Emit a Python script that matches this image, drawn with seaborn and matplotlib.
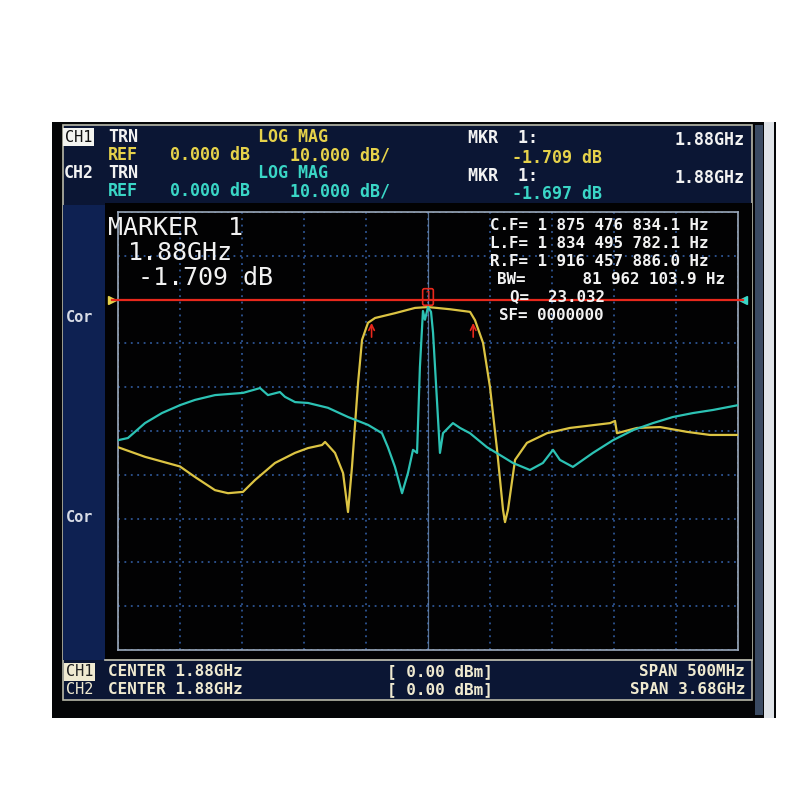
import numpy as np
import pandas as pd
import matplotlib
matplotlib.use("Agg")
import matplotlib.pyplot as plt
from matplotlib.patches import Rectangle
import seaborn as sns

CENTER_MHZ = 1880.0
SPAN1_MHZ = 500.0      # CH1 span
SPAN2_MHZ = 3680.0     # CH2 span
REF_DB = 0.0
SCALE_DB = 10.0        # dB per division
REF_POS_DIV = 8        # reference line position (division from bottom)

ch1_freq_mhz = [1630, 1651.8, 1680, 1692.1, 1708.2, 1718.7, 1730.8, 1740.5, 1756.6,
                1772.7, 1783.2, 1794.5, 1797, 1805, 1811.5, 1815.5, 1818.7, 1823.6,
                1826.8, 1831.6, 1837.3, 1853.4, 1869.5, 1880, 1897.7, 1913.9, 1917.9,
                1924.4, 1930, 1935.7, 1940.5, 1942.1, 1944.5, 1950.2, 1959.8, 1976,
                1994.5, 2026.8, 2030.8, 2032.4, 2048.6, 2067.1, 2088.9, 2107.4, 2130]
ch1_db = [-33.7, -35.9, -38.1, -40.5, -43.5, -44.2, -43.9, -41.2, -37.3,
          -35.0, -33.9, -33.2, -32.5, -35.0, -39.6, -48.5, -38.2, -19.0,
          -9.2, -5.3, -4.2, -3.1, -1.9, -1.7, -2.2, -2.8, -4.7,
          -9.9, -20.0, -34.3, -48.0, -50.8, -48.0, -36.6, -32.7, -30.5,
          -29.3, -28.2, -27.7, -30.5, -29.3, -29.1, -30.2, -30.9, -30.9]

ch2_freq_mhz = [40, 99, 200, 301, 408, 497, 616, 782, 883, 930, 1001, 1031, 1091,
                1168, 1286, 1405, 1524, 1607, 1642, 1684, 1726, 1761, 1791, 1815,
                1832, 1850, 1862, 1880, 1898, 1910, 1933, 1951, 1969, 2028, 2070,
                2129, 2230, 2325, 2384, 2485, 2562, 2622, 2663, 2740, 2859, 2978,
                3097, 3215, 3334, 3453, 3571, 3720]
ch2_db = [-32.1, -31.6, -28.2, -25.9, -24.1, -22.9, -21.8, -21.3, -20.2, -21.8, -21.1,
          -22.2, -23.4, -23.6, -24.7, -26.8, -28.6, -30.5, -33.7, -38.2, -44.2, -39.6,
          -34.3, -35.0, -15.4, -2.6, -4.6, -1.7, -2.8, -7.6, -22.9, -35.0, -30.5,
          -28.2, -29.3, -30.5, -33.7, -35.9, -37.3, -38.9, -37.3, -34.3, -36.6, -38.2,
          -35.0, -32.1, -29.8, -28.2, -26.8, -25.9, -25.2, -24.1]

marker_freq_mhz = 1880.0
lf_mhz = 1834.495782
rf_mhz = 1916.457886
bw_level_db = -4.7

# ---------------- style ----------------
YEL = "#e6d24a"
YEL_TR = "#dcc443"
CYA = "#3ad6c6"
CYA_TR = "#2cc2b4"
WHT = "#f2f2f2"
CREAM = "#f0ead0"
RED = "#e8281c"
GRID = "#3563ad"
MONO = "DejaVu Sans Mono"

fig = plt.figure(figsize=(8, 8), dpi=100, facecolor="white")

# background "screen" in pixel coordinates
bg = fig.add_axes([0, 0, 1, 1], zorder=0)
bg.set_xlim(0, 800)
bg.set_ylim(800, 0)
bg.axis("off")

def rect(x0, y0, x1, y1, fc, ec="none", lw=0, z=0):
    bg.add_patch(Rectangle((x0, y0), x1 - x0, y1 - y0, fc=fc, ec=ec, lw=lw, zorder=z))

rect(52, 122, 776, 718, "#040507")                 # outer black
rect(63, 125, 752, 700, "#0b1634", ec="#b8b8a8", lw=1.2, z=1)   # navy frame
rect(63, 205, 105, 660, "#0e2152", z=2)            # left margin
rect(105, 203, 752, 660, "#020203", z=2)           # plot black area
bg.plot([105, 752], [660, 660], color="#c8c8b8", lw=1.2, zorder=3)
rect(755, 125, 763, 715, "#3a4a62", z=1)
rect(764, 122, 774, 718, "#dfe3e8", z=1)
# reference triangles
bg.plot([112], [300], marker=">", color=YEL, ms=6, zorder=4)
bg.plot([743], [300], marker="<", color=CYA, ms=6, zorder=4)

def T(x, y, s, color=WHT, size=12, weight="bold", ha="left", family=MONO, **kw):
    fig.text(x / 800, 1 - y / 800, s, color=color, fontsize=size, fontweight=weight,
             ha=ha, va="center", family=family, **kw)

# header
T(65, 137, "CH1", color="#101010", size=11, weight="normal",
  bbox=dict(boxstyle="square,pad=0.12", fc="#f4f4f0", ec="none"))
T(108, 137, "TRN")
T(258, 137, "LOG MAG", color=YEL)
T(468, 138, "MKR  1:")
T(745, 140, "1.88GHz", ha="right")
T(108, 155, "REF", color=YEL)
T(170, 155, "0.000 dB", color=YEL)
T(290, 155, "10.000 dB/", color=YEL)
T(512, 158, "-1.709 dB", color=YEL)
T(64, 173, "CH2")
T(108, 173, "TRN")
T(258, 173, "LOG MAG", color=CYA)
T(468, 176, "MKR  1:")
T(745, 178, "1.88GHz", ha="right")
T(108, 191, "REF", color=CYA)
T(170, 191, "0.000 dB", color=CYA)
T(290, 191, "10.000 dB/", color=CYA)
T(512, 194, "-1.697 dB", color=CYA)

# side labels
T(66, 318, "Cor", color="#d8dce6", size=11)
T(66, 517, "Cor", color="#d8dce6", size=11)

# bottom bar
T(66, 672, "CH1", color="#202020", size=11, weight="normal",
  bbox=dict(boxstyle="square,pad=0.1", fc=CREAM, ec="none"))
T(108, 672, "CENTER 1.88GHz", color=CREAM, size=11.5)
T(387, 672, "[ 0.00 dBm]", color=CREAM, size=11.5)
T(745, 672, "SPAN 500MHz", color=CREAM, size=11.5, ha="right")
T(66, 690, "CH2", color=CREAM, size=11, weight="normal")
T(108, 690, "CENTER 1.88GHz", color=CREAM, size=11.5)
T(387, 690, "[ 0.00 dBm]", color=CREAM, size=11.5)
T(745, 690, "SPAN 3.68GHz", color=CREAM, size=11.5, ha="right")

# marker readout
T(108, 228, "MARKER  1", size=18, weight="normal")
T(128, 253, "1.88GHz", size=18, weight="normal")
T(138, 278, "-1.709 dB", size=18, weight="normal")
T(490, 226, "C.F= 1 875 476 834.1 Hz", size=11.4)
T(490, 244, "L.F= 1 834 495 782.1 Hz", size=11.4)
T(490, 261, "R.F= 1 916 457 886.0 Hz", size=11.4)
T(497, 279, "BW=      81 962 103.9 Hz", size=11.4)
T(510, 297, "Q=  23.032", size=11.4)
T(499, 315, "SF= 0000000", size=11.4)

# ---------------- main trace axes ----------------
ax = fig.add_axes([118 / 800, 1 - 650 / 800, 620 / 800, 438 / 800], zorder=1)
ax.set_facecolor("#020203")
ymax = REF_DB + (10 - REF_POS_DIV) * SCALE_DB
ymin = REF_DB - REF_POS_DIV * SCALE_DB
x1lo, x1hi = CENTER_MHZ - SPAN1_MHZ / 2, CENTER_MHZ + SPAN1_MHZ / 2
ax.set_xlim(x1lo, x1hi)
ax.set_ylim(ymin, ymax)
ax.set_xticks(np.linspace(x1lo, x1hi, 11))
ax.set_yticks(np.linspace(ymin, ymax, 11))
ax.tick_params(length=0, labelbottom=False, labelleft=False)
ax.grid(True, color=GRID, ls=(0, (1.2, 3)), lw=1.1)
for sp in ax.spines.values():
    sp.set_color("#9aa8ba")
    sp.set_linewidth(1.2)
ax.axvline(CENTER_MHZ, color="#6d8cb6", lw=0.9, alpha=0.8)

df1 = pd.DataFrame({"f": ch1_freq_mhz, "db": ch1_db})
df2 = pd.DataFrame({"f": ch2_freq_mhz, "db": ch2_db})

ax2 = ax.twiny()
ax2.set_xlim(CENTER_MHZ - SPAN2_MHZ / 2, CENTER_MHZ + SPAN2_MHZ / 2)
ax2.set_ylim(ymin, ymax)
ax2.axis("off")

sns.lineplot(data=df2, x="f", y="db", ax=ax2, color=CYA_TR, lw=1.6, zorder=3)
sns.lineplot(data=df1, x="f", y="db", ax=ax, color=YEL_TR, lw=1.6, zorder=3)
ax.set_xlabel("")
ax.set_ylabel("")

# reference / marker line
ax.plot([x1lo - 5, x1hi + 4], [REF_DB, REF_DB], color=RED, lw=1.6, clip_on=False, zorder=4)
ax.text(marker_freq_mhz, REF_DB + 0.6, "1", color=RED, fontsize=8.5, ha="center",
        va="center", zorder=5, family=MONO,
        bbox=dict(boxstyle="round,pad=0.15", fc="none", ec=RED, lw=1.2))
for f in (lf_mhz, rf_mhz):
    ax.annotate("", xy=(f, bw_level_db), xytext=(f, bw_level_db - 4.5),
                arrowprops=dict(arrowstyle="->", color=RED, lw=1.2), zorder=5)

fig.savefig("out.png", dpi=100, facecolor="white")
